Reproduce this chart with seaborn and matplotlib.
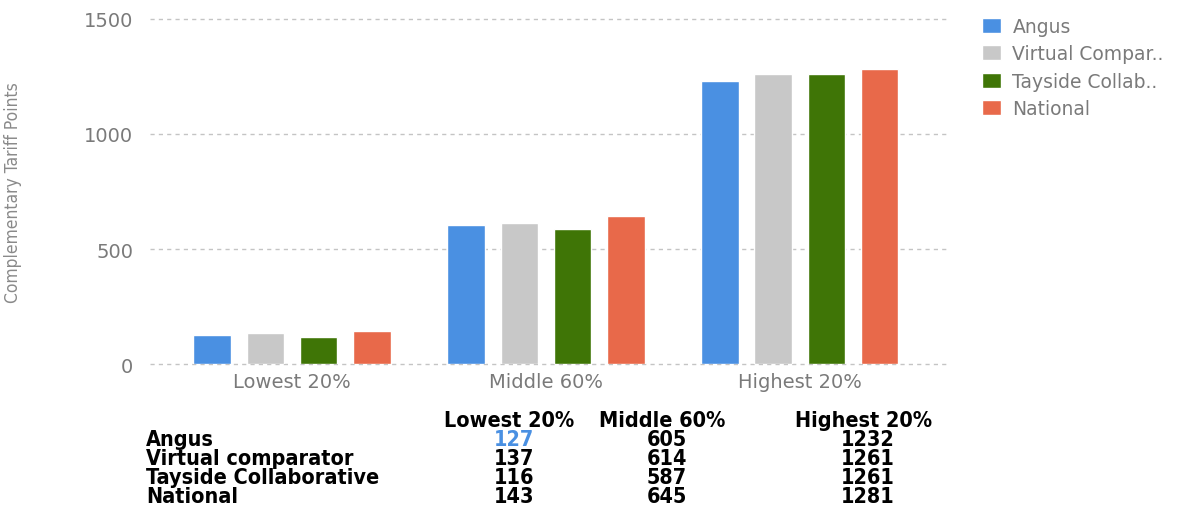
import pandas as pd
import matplotlib.pyplot as plt
import seaborn as sns

# Data
groups = ["Lowest 20%", "Middle 60%", "Highest 20%"]
series = ["Angus", "Virtual comparator", "Tayside Collaborative", "National"]
legend_labels = ["Angus", "Virtual Compar..", "Tayside Collab..", "National"]
angus = [127, 605, 1232]
virtual = [137, 614, 1261]
tayside = [116, 587, 1261]
national = [143, 645, 1281]
colors = ["#4a90e2", "#c8c8c8", "#3f7506", "#e8694a"]

rows = []
for name, vals in zip(series, [angus, virtual, tayside, national]):
    for g, v in zip(groups, vals):
        rows.append({"group": g, "series": name, "value": v})
df = pd.DataFrame(rows)

sns.set_style("white")
plt.rcParams["font.family"] = ["DejaVu Sans"]

fig = plt.figure(figsize=(11.99, 5.10), dpi=100)
ax = fig.add_axes([0.125, 0.284, 0.667, 0.677])

sns.barplot(data=df, x="group", y="value", hue="series", order=groups,
            hue_order=series, palette=colors, width=0.84, gap=0.3,
            saturation=1, ax=ax)

ax.set_ylim(0, 1500)
ax.set_xlim(-0.56, 2.59)
ax.set_yticks([0, 500, 1000, 1500])
ax.yaxis.grid(True, linestyle=(0, (3, 3)), color="#c4c4c4", linewidth=1.0)
ax.set_axisbelow(True)
for line in ax.get_ygridlines():
    line.set_clip_on(False)
for s in ax.spines.values():
    s.set_visible(False)
ax.tick_params(axis="both", length=0, colors="#7a7a7a", labelsize=14)
ax.tick_params(axis="y", pad=12)
ax.tick_params(axis="x", pad=6)
ax.set_xlabel("")
ax.set_ylabel("Complementary Tariff Points", fontstretch="condensed",
              fontsize=12.5, color="#8a8a8a")
ax.yaxis.set_label_coords(-0.16, 0.5)

handles, _ = ax.get_legend_handles_labels()
ax.legend(handles, legend_labels, loc="upper left", bbox_to_anchor=(1.02, 1.055),
          frameon=False, fontsize=13.5, labelcolor="#7a7a7a", handlelength=1.0,
          handleheight=0.85, handletextpad=0.6, labelspacing=0.45)

# Data table below the chart
col_x = [0.425, 0.552, 0.72]
head_y = 1 - 421 / 510
row_ys = [1 - y / 510 for y in (440, 459, 478, 497)]
tkw = dict(va="center", fontstretch="condensed", fontweight="bold", fontsize=15.5)
for x, g in zip(col_x, groups):
    fig.text(x, head_y, g, ha="center", color="black", **tkw)
for y, name, vals in zip(row_ys, series, [angus, virtual, tayside, national]):
    fig.text(0.122, y, name, ha="left", color="black", **tkw)
    for i, (x, v) in enumerate(zip(col_x, vals)):
        c = "#4a90e2" if (name == "Angus" and i == 0) else "black"
        fig.text(x + 0.004, y, str(v), ha="center", color=c, **tkw)

fig.savefig("out.png", dpi=100)
